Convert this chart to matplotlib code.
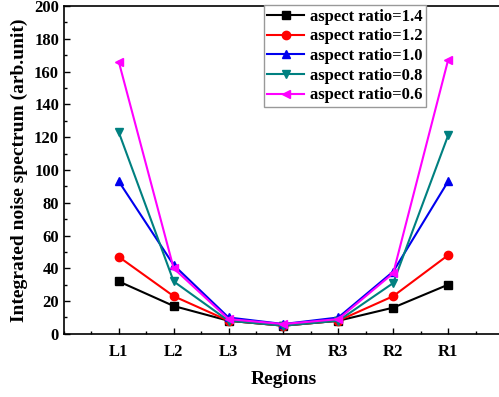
import matplotlib
matplotlib.use("Agg")
import matplotlib.pyplot as plt
from matplotlib.ticker import MultipleLocator

plt.rcParams['font.family'] = ['Liberation Serif', 'DejaVu Serif']
plt.rcParams['font.weight'] = 'bold'

regions = ["L1", "L2", "L3", "M", "R3", "R2", "R1"]
ar_14 = [32, 17, 8, 5, 8, 16, 30]
ar_12 = [47, 23, 8, 5, 8, 23, 48]
ar_10 = [93, 42, 10, 6, 10, 38, 93]
ar_08 = [123, 32, 8, 5, 8, 31, 121]
ar_06 = [166, 40, 9, 6, 9, 37, 167]

series = [
    ("aspect ratio=1.4", ar_14, "black", "s"),
    ("aspect ratio=1.2", ar_12, "red", "o"),
    ("aspect ratio=1.0", ar_10, "#0000ee", "^"),
    ("aspect ratio=0.8", ar_08, "#008080", "v"),
    ("aspect ratio=0.6", ar_06, "magenta", "<"),
]

fig = plt.figure(figsize=(4.99, 3.97), dpi=100)
ax = fig.add_axes([0.128, 0.159, 0.88, 0.826])

x = list(range(1, len(regions) + 1))
for label, vals, color, marker in series:
    ax.plot(x, vals, color=color, marker=marker, markersize=6, linewidth=1.5, label=label)

ax.set_xlim(0, 8)
ax.set_ylim(0, 200)
ax.set_xticks(x)
ax.set_xticklabels(regions)
ax.xaxis.set_minor_locator(MultipleLocator(0.5))
ax.yaxis.set_major_locator(MultipleLocator(20))
ax.yaxis.set_minor_locator(MultipleLocator(10))
ax.tick_params(which='both', direction='in', labelsize=12, width=1)
ax.tick_params(axis='x', pad=7)
ax.tick_params(which='major', length=4)
ax.tick_params(which='minor', length=2.5)
for s in ax.spines.values():
    s.set_linewidth(1.2)

ax.set_xlabel("Regions", fontsize=14, fontweight='bold', labelpad=8)
ax.set_ylabel("Integrated noise spectrum (arb.unit)", fontsize=14, fontweight='bold', labelpad=4)

leg = ax.legend(loc='upper left', bbox_to_anchor=(0.448, 1.012), fontsize=12,
                handlelength=2.2, handletextpad=0.35, labelspacing=0.22,
                borderpad=0.2, borderaxespad=0.2, fancybox=False, framealpha=1)
leg.get_frame().set_edgecolor('#999999')
for t in leg.get_texts():
    t.set_fontweight('bold')

fig.savefig("out.png", dpi=100)
